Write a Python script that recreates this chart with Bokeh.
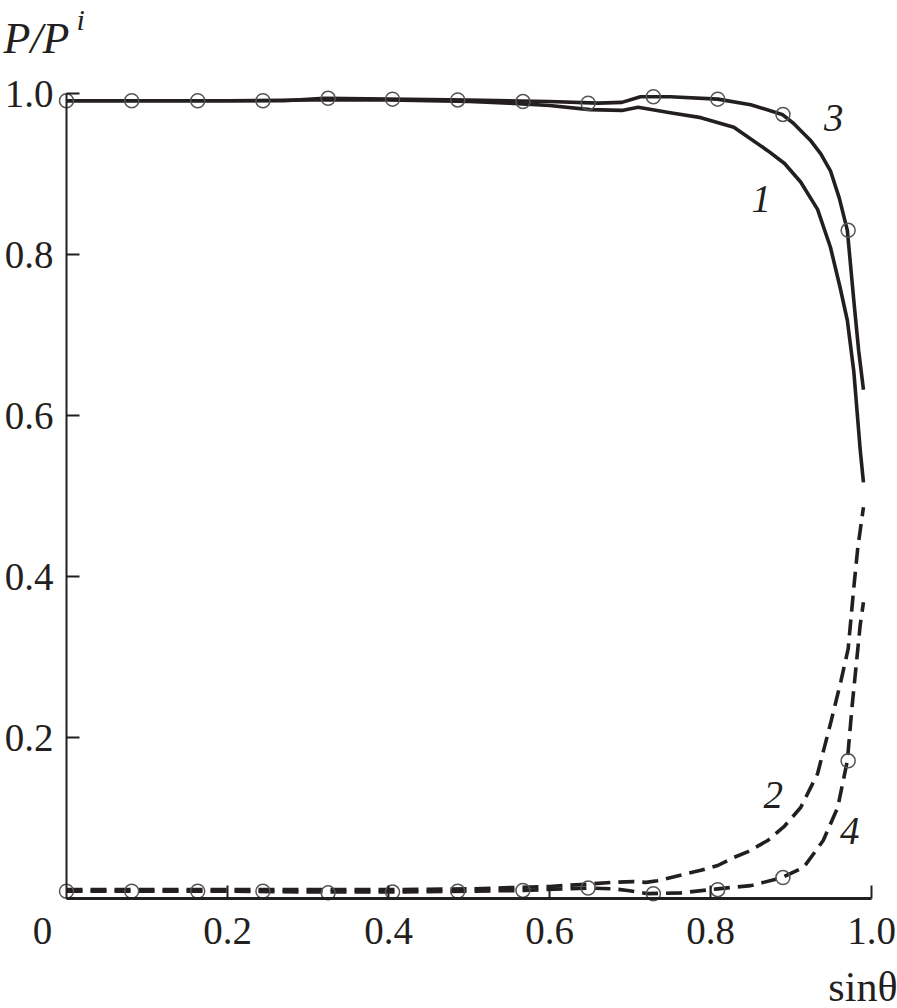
from bokeh.plotting import figure
from bokeh.models import Range1d, FixedTicker, Label
from bokeh.embed import file_html
from bokeh.resources import INLINE

# ---- data ----
c1_x = [0.0, 0.1, 0.2, 0.3, 0.4, 0.5, 0.55, 0.6, 0.65, 0.69, 0.71, 0.75, 0.788, 0.829,
        0.871, 0.892, 0.912, 0.933, 0.949, 0.961, 0.970, 0.978, 0.986, 0.990]
c1_y = [0.991, 0.991, 0.991, 0.992, 0.992, 0.990, 0.988, 0.985, 0.980, 0.979, 0.983, 0.976,
        0.970, 0.958, 0.929, 0.913, 0.890, 0.856, 0.809, 0.759, 0.718, 0.655, 0.557, 0.517]

c3_x = [0.0, 0.1, 0.2, 0.27, 0.32, 0.4, 0.5, 0.6, 0.66, 0.69, 0.713, 0.75, 0.809, 0.85,
        0.889, 0.903, 0.924, 0.937, 0.949, 0.960, 0.970, 0.978, 0.984, 0.990]
c3_y = [0.991, 0.991, 0.991, 0.991, 0.994, 0.993, 0.992, 0.990, 0.988, 0.989, 0.996, 0.996,
        0.993, 0.986, 0.974, 0.963, 0.942, 0.925, 0.904, 0.870, 0.830, 0.743, 0.681, 0.632]

c2_x = [0.0, 0.1, 0.2, 0.3, 0.4, 0.5, 0.6, 0.65, 0.676, 0.704, 0.72, 0.734, 0.771, 0.788,
        0.809, 0.829, 0.846, 0.871, 0.892, 0.912, 0.933, 0.949, 0.962, 0.971, 0.978, 0.983,
        0.990]
c2_y = [0.011, 0.011, 0.011, 0.011, 0.011, 0.012, 0.015, 0.018, 0.020, 0.021, 0.020, 0.022,
        0.031, 0.035, 0.041, 0.051, 0.058, 0.072, 0.090, 0.113, 0.155, 0.217, 0.270, 0.310,
        0.386, 0.436, 0.486]

c4_x = [0.0, 0.1, 0.2, 0.3, 0.4, 0.5, 0.567, 0.62, 0.648, 0.68, 0.697, 0.722, 0.763, 0.809,
        0.850, 0.889, 0.916, 0.940, 0.958, 0.970, 0.976, 0.981, 0.986, 0.990]
c4_y = [0.009, 0.009, 0.009, 0.008, 0.008, 0.009, 0.010, 0.012, 0.013, 0.012, 0.010, 0.006,
        0.007, 0.012, 0.016, 0.026, 0.039, 0.072, 0.113, 0.171, 0.240, 0.290, 0.340, 0.368]

m_x = [0.0, 0.081, 0.163, 0.244, 0.325, 0.405, 0.486, 0.567, 0.648, 0.729, 0.809, 0.890, 0.971]
m3_y = [0.991, 0.991, 0.991, 0.991, 0.994, 0.993, 0.992, 0.990, 0.988, 0.996, 0.993, 0.974, 0.830]
m4_y = [0.009, 0.009, 0.009, 0.009, 0.007, 0.008, 0.009, 0.010, 0.013, 0.006, 0.011, 0.026, 0.171]

x_ticks = [0.2, 0.4, 0.6, 0.8, 1.0]
x_tick_labels = ["0.2", "0.4", "0.6", "0.8", "1.0"]
y_ticks = [0.2, 0.4, 0.6, 0.8, 1.0]
y_tick_labels = ["0.2", "0.4", "0.6", "0.8", "1.0"]

curve_names = ["1", "2", "3", "4"]
curve_label_x = [0.863, 0.878, 0.953, 0.973]
curve_label_y = [0.869, 0.129, 0.969, 0.084]

INK = "#231f20"
FONT = "Liberation Serif"

W, H = 897, 1008
PX = 805.0            # pixels per data unit (both axes)
X0, Y0 = 66.0, 898.0  # page position of the origin

p = figure(frame_width=W, frame_height=H, min_border=0,
           x_range=Range1d(-X0 / PX, (W - X0) / PX),
           y_range=Range1d(-(H - Y0) / PX, Y0 / PX),
           output_backend="svg", toolbar_location=None)
p.outline_line_color = None
p.grid.visible = False
p.background_fill_color = "white"
p.border_fill_color = "white"

for ax, ticks, labels in ((p.xaxis[0], x_ticks, x_tick_labels), (p.yaxis[0], y_ticks, y_tick_labels)):
    ax.fixed_location = 0
    ax.bounds = (0, 1)
    ax.ticker = FixedTicker(ticks=ticks)
    ax.major_label_overrides = {t: l for t, l in zip(ticks, labels)}
    ax.major_tick_in = 13
    ax.major_tick_out = 0
    ax.minor_tick_line_color = None
    ax.major_tick_line_color = INK
    ax.major_tick_line_width = 2
    ax.axis_line_color = INK
    ax.major_label_text_font = FONT
    ax.major_label_text_font_size = "39px"
    ax.major_label_text_color = INK

p.xaxis.axis_line_width = 3
p.yaxis.axis_line_width = 2
p.xaxis.major_label_standoff = 19
p.yaxis.major_label_standoff = 13

# curves
p.line(c1_x, c1_y, line_color=INK, line_width=3.6, line_join="round")
p.line(c3_x, c3_y, line_color=INK, line_width=3.6, line_join="round")
p.line(c2_x, c2_y, line_color=INK, line_width=3.6, line_dash="16 8")
p.line(c4_x, c4_y, line_color=INK, line_width=3.6, line_dash="16 8")

# measured points
p.scatter(m_x, m3_y, marker="circle", size=14, fill_color=None, line_color="#555555", line_width=1.5)
p.scatter(m_x, m4_y, marker="circle", size=14, fill_color=None, line_color="#555555", line_width=1.5)

# curve numbers
for name, lx, ly in zip(curve_names, curve_label_x, curve_label_y):
    p.add_layout(Label(x=lx, y=ly, text=name, text_font=FONT, text_font_style="italic",
                       text_font_size="39px", text_color=INK, text_align="center",
                       text_baseline="middle"))

# corner zero, axis titles
p.add_layout(Label(x=0, y=0, x_offset=-24, y_offset=-19, text="0", text_font=FONT,
                   text_font_size="39px", text_color=INK, text_align="center",
                   text_baseline="top"))
p.add_layout(Label(x=1.0, y=0, x_offset=26, y_offset=-88, text="sinθ", text_font=FONT,
                   text_font_size="42px", text_color=INK, text_align="right",
                   text_baseline="alphabetic"))
p.add_layout(Label(x=0, y=1.0, x_offset=-63, y_offset=55, text="P/P", text_font=FONT,
                   text_font_style="italic", text_font_size="44px", text_color=INK,
                   text_align="left", text_baseline="alphabetic"))
p.add_layout(Label(x=0, y=1.0, x_offset=10, y_offset=74, text="i", text_font=FONT,
                   text_font_style="italic", text_font_size="30px", text_color=INK,
                   text_align="left", text_baseline="alphabetic"))

open("out.html", "w").write(file_html(p, INLINE))
